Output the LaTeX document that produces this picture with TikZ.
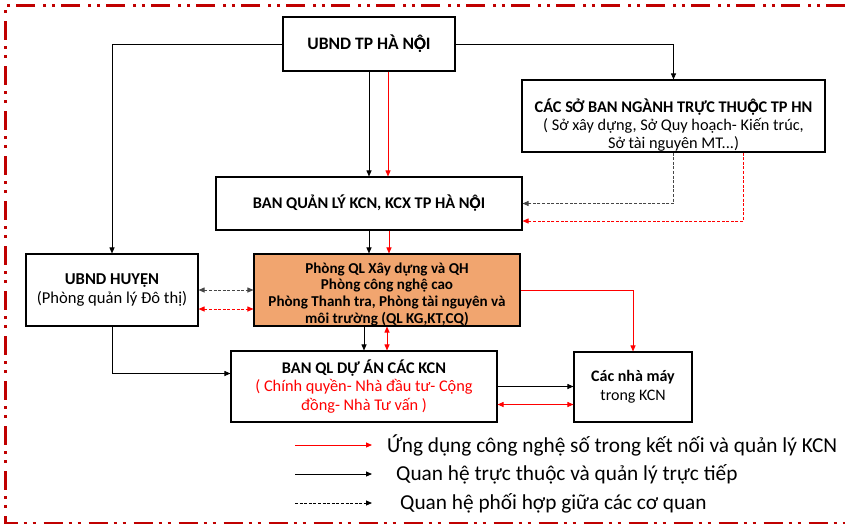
\documentclass[tikz,border=0pt]{standalone}
\usepackage{fontspec}
\setmainfont{Carlito}
\usetikzlibrary{arrows.meta}

\definecolor{borderred}{RGB}{192,0,0}
\definecolor{phongfill}{RGB}{241,165,111}
\definecolor{coopgray}{RGB}{70,70,70}

% O with circumflex and dot below, built from two glyphs
\newcommand\OCD{\ooalign{Ô\cr Ọ\cr}}

\begin{document}
\begin{tikzpicture}[x=1pt,y=-1pt,
  >={Triangle[length=6pt,width=5pt]},
  box/.style={draw=black,line width=1.1pt,fill=white,inner sep=0pt,align=center},
  link/.style={line width=0.9pt,->},
  redlink/.style={link,red},
  coop/.style={link,dash pattern=on 3pt off 1.6pt},
  legend/.style={anchor=west,inner sep=0pt,font=\fontsize{21.3}{24}\selectfont}]
\useasboundingbox (0,0) rectangle (845,525);

% khung ngoai
\draw[borderred,line width=2.5pt,dash pattern=on 19pt off 6pt on 3pt off 6pt on 3pt off 8pt]
  (845,5.5) -- (5.5,5.5) -- (5.5,523) -- (845,523);

% cac o
\node[box,minimum width=172pt,minimum height=54pt,font=\bfseries\fontsize{17.5}{20}\selectfont] (U) at (369,44) {UBND TP HÀ N\OCD I};

\node[box,minimum width=303pt,minimum height=72pt] (S) at (673.5,116) {};
\node[align=center,inner sep=0pt,font=\fontsize{16.3}{17.7}\selectfont] (Stext) at ([yshift=-9]S.center)
  {\textbf{CÁC SỞ BAN NGÀNH TRỰC THU\OCD C TP HN}\\( Sở xây dựng, Sở Quy hoạch- Kiến trúc,\\Sở tài nguyên MT...)};

\node[box,minimum width=306pt,minimum height=53pt,font=\bfseries\fontsize{16.3}{18}\selectfont] (B) at (369,203.5) {BAN QUẢN LÝ KCN, KCX TP HÀ N\OCD I};

\node[box,minimum width=172pt,minimum height=72pt,font=\fontsize{16.6}{18.3}\selectfont] (H) at (112,290)
  {\textbf{UBND HUYỆN}\\(Phòng quản lý Đô thị)};

\node[box,fill=phongfill,minimum width=266pt,minimum height=68pt,font=\bfseries\fontsize{15.1}{16.8}\selectfont] (P) at (387,290)
  {\rule{0pt}{19pt}Phòng QL Xây dựng và QH\\Phòng công nghệ cao\\Phòng Thanh tra, Phòng tài nguyên và\\môi trường (QL KG,KT,CQ)};

\node[box,minimum width=266pt,minimum height=71pt,font=\fontsize{16.3}{18.3}\selectfont] (D) at (364,386.5)
  {\textbf{BAN QL DỰ ÁN CÁC KCN}\\\textcolor{red}{( Chính quyền- Nhà đầu tư- Cộng}\\\textcolor{red}{đồng- Nhà Tư vấn )}};

\node[box,minimum width=118pt,minimum height=70pt,font=\fontsize{16}{18.7}\selectfont] (F) at (633,387)
  {\textbf{Các nhà máy}\\trong KCN};

% quan he truc thuoc
\draw[link] (U.west) -| (H.north);
\draw[link] (U.east) -| (S.north);
\draw[link] (U.south) -- (B.north);
\draw[link] (B.south) -- (B.south |- P.north);
\draw[link] (D.north |- P.south) -- (D.north);
\draw[link] (H.south) |- ([yshift=13]D.west);
\draw[link] (D.east) -- (D.east -| F.west);

% cong nghe so
\draw[redlink] ([xshift=19]U.south) -- ([xshift=19]B.north);
\draw[redlink] ([xshift=20]B.south) -- ([xshift=20]B.south |- P.north);
\draw[redlink,<->] (P.south) -- (P.south |- D.north);
\draw[redlink] (P.east) -| (F.north);
\draw[redlink,<->] ([yshift=-18]D.east) -- ([yshift=-18]D.east -| F.west);

% phoi hop
\draw[coop,coopgray] (S.south) |- (B.east);
\draw[coop,red] ([xshift=70]S.south) |- ([yshift=-17.5]B.east);
\draw[coop,coopgray,<->] (H.east) -- (P.west);
\draw[coop,red,<->] ([yshift=-19]H.east) -- ([yshift=-19]H.east -| P.west);

% chu thich
\coordinate (L1a) at (295,445); \coordinate (L1b) at (372,445);
\coordinate (L2a) at (295,474); \coordinate (L2b) at (372,474);
\coordinate (L3a) at (295,503); \coordinate (L3b) at (372,503);
\draw[redlink] (L1a) -- (L1b);
\draw[link] (L2a) -- (L2b);
\draw[coop] (L3a) -- (L3b);
\node[legend] (L1) at (387,445) {Ứng dụng công nghệ số trong kết nối và quản lý KCN};
\node[legend] (L2) at (396,474) {Quan hệ trực thuộc và quản lý trực tiếp};
\node[legend] (L3) at (400,503) {Quan hệ phối hợp giữa các cơ quan};
\end{tikzpicture}
\end{document}
